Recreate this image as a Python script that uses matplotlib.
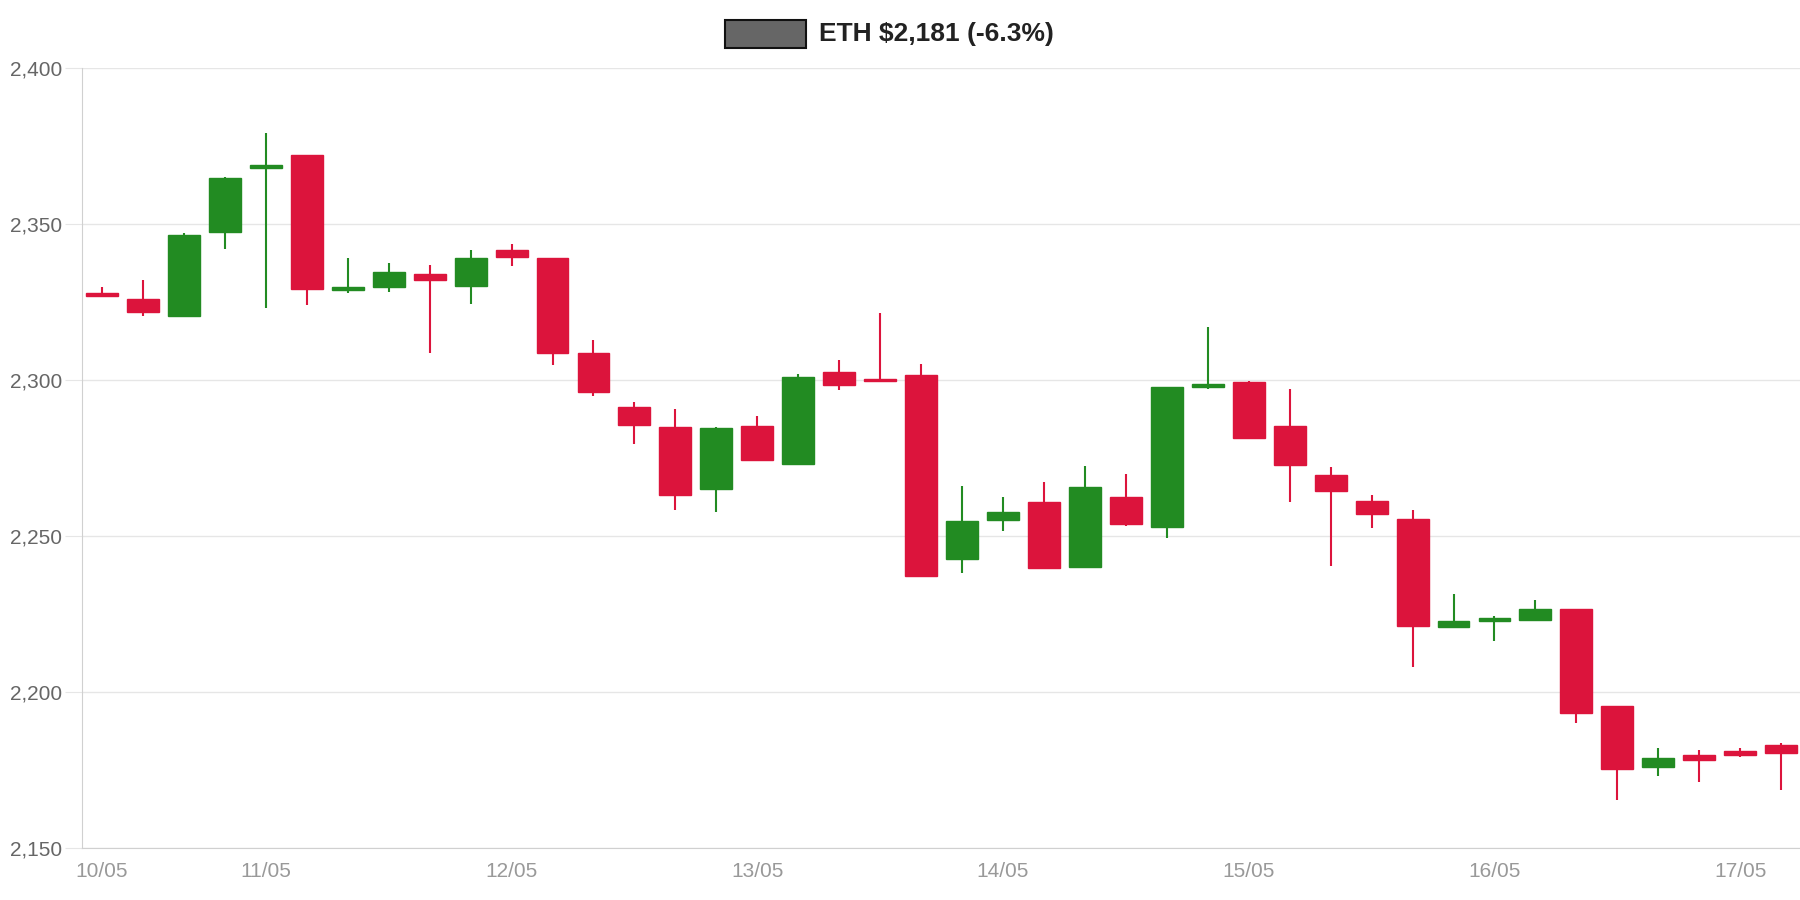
import numpy as np
import matplotlib.pyplot as plt
from matplotlib.patches import Rectangle

plt.rcParams['font.family'] = ['Liberation Sans', 'DejaVu Sans']

opens = [2327.5, 2326.1, 2320.6, 2347.4, 2368.0, 2372.1, 2328.7, 2329.8, 2333.8, 2330.1,
         2341.5, 2339.0, 2308.5, 2291.5, 2284.9, 2265.1, 2285.3, 2273.2, 2302.6, 2300.2,
         2301.5, 2242.6, 2255.1, 2261.0, 2240.1, 2262.5, 2252.9, 2297.8, 2299.3, 2285.3,
         2269.5, 2261.4, 2255.5, 2220.9, 2222.8, 2223.2, 2226.8, 2195.6, 2176.1, 2179.8,
         2181.3, 2183.1]
closes = [2327.0, 2321.7, 2346.3, 2364.7, 2368.8, 2329.0, 2329.8, 2334.6, 2332.0, 2339.0,
          2339.3, 2308.5, 2296.0, 2285.7, 2263.2, 2284.6, 2274.3, 2301.1, 2298.5, 2299.6,
          2237.1, 2254.8, 2257.7, 2239.7, 2265.8, 2254.0, 2297.8, 2298.5, 2281.3, 2272.8,
          2264.3, 2257.0, 2221.3, 2222.8, 2223.9, 2226.5, 2193.4, 2175.4, 2179.0, 2178.3,
          2179.8, 2180.5]
highs = [2329.8, 2332.0, 2347.0, 2365.0, 2379.0, 2372.1, 2339.0, 2337.5, 2336.8, 2341.5,
         2343.4, 2339.0, 2312.9, 2293.0, 2290.8, 2285.0, 2288.6, 2301.8, 2306.3, 2321.3,
         2305.1, 2266.2, 2262.5, 2267.3, 2272.4, 2269.9, 2297.8, 2316.9, 2299.6, 2297.1,
         2272.1, 2263.2, 2258.5, 2231.3, 2224.3, 2229.4, 2226.8, 2195.6, 2182.0, 2181.6,
         2182.0, 2183.8]
lows = [2326.5, 2320.6, 2320.6, 2341.9, 2323.2, 2323.9, 2328.0, 2328.3, 2308.8, 2324.3,
        2336.4, 2304.8, 2294.9, 2279.4, 2258.5, 2257.7, 2274.3, 2273.2, 2296.7, 2299.5,
        2237.1, 2238.2, 2251.5, 2239.7, 2240.1, 2253.3, 2249.3, 2297.1, 2281.3, 2261.0,
        2240.4, 2252.6, 2208.1, 2220.9, 2216.5, 2222.8, 2190.1, 2165.4, 2173.2, 2171.3,
        2179.4, 2168.8]
tick_idx = [0, 4, 10, 16, 22, 28, 34, 40]
tick_labels = ['10/05', '11/05', '12/05', '13/05', '14/05', '15/05', '16/05', '17/05']

fig = plt.figure(figsize=(18, 9), dpi=100)
ax = fig.add_axes([0.0453, 0.0574, 0.9547, 0.8673])

up_c, dn_c = '#228B22', '#DC143C'
for i, (o, c, h, l) in enumerate(zip(opens, closes, highs, lows)):
    col = up_c if c >= o else dn_c
    ax.vlines(i, l, h, color=col, linewidth=1.5, zorder=2)
    bot = min(o, c)
    hgt = max(abs(c - o), 0.8)
    ax.add_patch(Rectangle((i - 0.39, bot), 0.78, hgt, color=col, zorder=3))

ax.set_xlim(-0.5, 41.46)
ax.set_ylim(2150, 2400)
ax.set_yticks([2150, 2200, 2250, 2300, 2350, 2400])
ax.set_yticklabels(['2,150', '2,200', '2,250', '2,300', '2,350', '2,400'])
ax.set_xticks(tick_idx)
ax.set_xticklabels(tick_labels)
ax.grid(axis='y', color='#e6e6e6', linewidth=1)
ax.set_axisbelow(True)
for s in ['top', 'right']:
    ax.spines[s].set_visible(False)
for s in ['left', 'bottom']:
    ax.spines[s].set_color('#d0d0d0')
ax.tick_params(axis='y', colors='#666666', labelsize=15, length=12, color='#e6e6e6', pad=2)
ax.tick_params(axis='x', colors='#999999', labelsize=15, length=0, pad=10)
for t in ax.get_yticklabels():
    t.set_color('#666666')

fig.patches.append(Rectangle((0.403, 0.947), 0.045, 0.031, transform=fig.transFigure,
                             facecolor='#666666', edgecolor='#111111', linewidth=1.5))
fig.text(0.455, 0.962, 'ETH $2,181 (-6.3%)', fontsize=19, fontweight='bold',
         color='#222222', va='center', ha='left')

fig.savefig('out.png', dpi=100)
